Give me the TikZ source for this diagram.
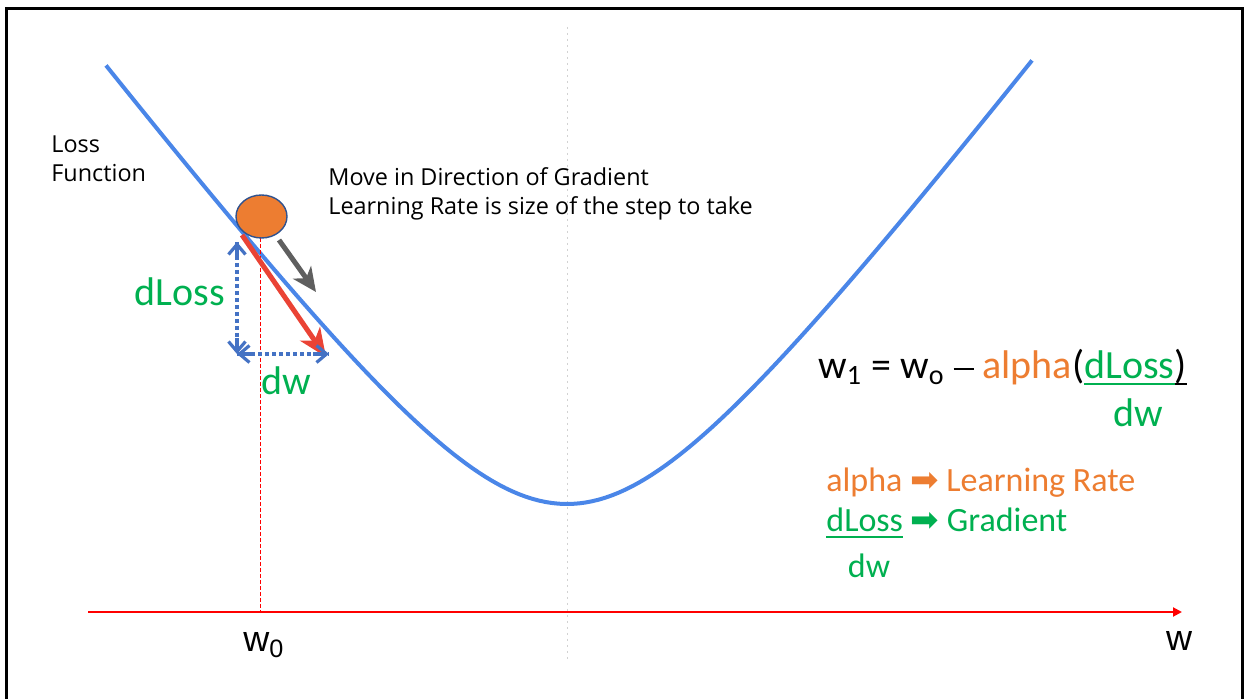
\documentclass[tikz,border=0pt]{standalone}
\usepackage{fontspec}
\setmainfont{Carlito}
\newfontfamily\gsans{Open Sans}
\newfontfamily\arialfont{Liberation Sans}
\newfontfamily\symfont{DejaVu Sans}
\usetikzlibrary{arrows.meta, shapes.geometric, calc}
\definecolor{curveblue}{HTML}{4A86E8}
\definecolor{stepred}{HTML}{EA4335}
\definecolor{stepgray}{HTML}{5F5F5F}
\definecolor{ballorange}{HTML}{ED7D31}
\definecolor{balledge}{HTML}{2F528F}
\definecolor{deltablue}{HTML}{4472C4}
\definecolor{gradgreen}{HTML}{00B050}
% text with a thick bar under it, at a fixed depth
\newcommand{\barunder}[2][-3.2pt]{\sbox0{#2}\rlap{\rule[#1]{\wd0}{0.9pt}}\usebox0}
\newcommand{\keyarrow}{{\symfont\fontsize{17}{20}\selectfont ➡}}
\newcommand{\longdash}{\rule[0.22em]{0.5em}{0.05em}}

\begin{document}
\begin{tikzpicture}[x=0.5pt, y=-0.5pt,
  delta/.style={deltablue, line width=1.8pt, dash pattern=on 2pt off 1.5pt},
  deltatip/.style={deltablue, line width=1.6pt, solid,
    -{Straight Barb[length=5pt, width=8.5pt, line width=1.6pt]}},
  bigtxt/.style={font=\fontsize{20}{24}\selectfont},
  keytxt/.style={font=\fontsize{17}{20}\selectfont, anchor=west, inner sep=0pt},
  gtxt/.style={font=\gsans\fontsize{11.7}{14.7}\selectfont, anchor=west, align=left, inner sep=0pt},
  axlabel/.style={font=\arialfont\fontsize{18}{20}\selectfont}]
  \useasboundingbox (0,0) rectangle (1249,699);
  % frame, open at the bottom
  \draw[line width=1.5pt] (6.5,705) -- (6.5,9) -- (1242,9) -- (1242,705);
  % centre line and w axis
  \draw[gray!35, line width=0.5pt, dash pattern=on 1pt off 2pt] (567,27) -- (567,662);
  \coordinate (axstart) at (88,612);
  \coordinate (axend) at (1182,612);
  \draw[red, line width=1pt, -{Triangle[length=4.5pt, width=4.5pt]}] (axstart) -- (axend);
  \node[axlabel] (wlab) at (1179,641) {w};
  \node[axlabel] (wzero) at (264,645) {w\textsubscript{0}};
  % loss curve, x in px / 100 inside the root
  \draw[curveblue, line width=2pt] plot[domain=106:1032, samples=140]
    (\x, {504 - 131*(sqrt(2.25 + ((\x-567)/100)^2) - 1.5)});
  \node[gtxt] (losslab) at (51,159) {Loss\\Function};
  % ball and step
  \draw[red, line width=0.5pt, dash pattern=on 2pt off 1pt] (260.5,238) -- (260.5,612);
  \node[ellipse, fill=ballorange, draw=balledge, line width=0.7pt,
    minimum width=25.5pt, minimum height=21.5pt, inner sep=0pt] (ball) at (261.5,216.5) {};
  \coordinate (stepstart) at (242,235);
  \coordinate (stepend) at (326,357);
  \draw[stepred, line width=2.5pt, -{Stealth[length=14pt, width=12pt, inset=4pt]}] (stepstart) -- (stepend);
  \coordinate (rollstart) at (279,240);
  \coordinate (rollend) at (316,292);
  \draw[stepgray, line width=2.5pt, -{Stealth[length=12pt, width=11pt, inset=3.5pt]}] (rollstart) -- (rollend);
  \node[gtxt] (movelab) at (328,194) {Move in Direction of Gradient\\Learning Rate is size of the step to take};
  % dLoss and dw, dotted with solid tips
  \coordinate (dtop) at (237,242);
  \coordinate (dcorner) at (237,354);
  \coordinate (dright) at (329,354);
  \draw[delta] (dtop) -- (dcorner) -- (dright);
  \draw[deltatip] ($(dtop)!8pt!(dcorner)$) -- (dtop);
  \draw[deltatip] ($(dcorner)!8pt!(dtop)$) -- (dcorner);
  \draw[deltatip] ($(dcorner)!8pt!(dright)$) -- (dcorner);
  \draw[deltatip] ($(dright)!8pt!(dcorner)$) -- (dright);
  \node[bigtxt, gradgreen] (dlosslab) at (180,292) {dLoss};
  \node[bigtxt, gradgreen] (dwlab) at (286,381) {dw};
  % update rule
  \node[bigtxt, anchor=west, inner sep=0pt] (rule) at (818,367)
    {w\textsubscript{1} = w\textsubscript{o} \longdash\ \textcolor{ballorange}{alpha}(\textcolor{gradgreen}{\barunder{dLoss}}\barunder{)}};
  \node[bigtxt, gradgreen] (ruledw) at (1138,413) {dw};
  \node[keytxt, ballorange] (alphakey) at (826,483) {alpha \keyarrow\ Learning Rate};
  \node[keytxt, gradgreen] (gradkey) at (826,523) {\barunder[-2.8pt]{dLoss} \keyarrow\ Gradient};
  \node[keytxt, gradgreen, anchor=center] (gradkeydw) at (869,566) {dw};
\end{tikzpicture}
\end{document}
